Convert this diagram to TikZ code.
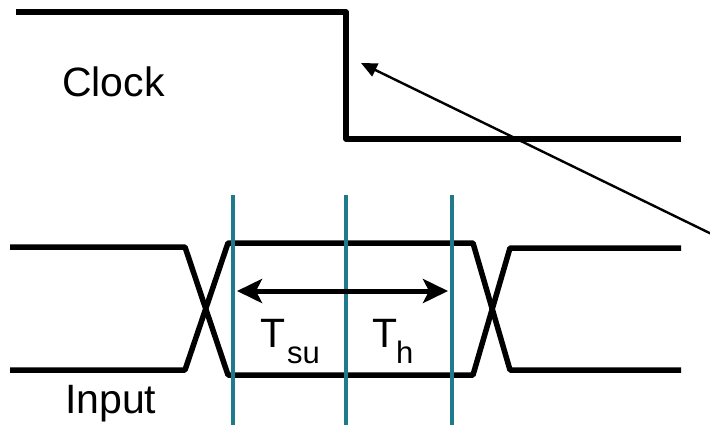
\documentclass[tikz,border=0pt]{standalone}
\usepackage{fontspec}
\setmainfont{Liberation Sans}
\usetikzlibrary{arrows.meta}
\definecolor{tealline}{RGB}{31,122,140}
\begin{document}
\begin{tikzpicture}[x=1pt,y=-1pt,
  sig/.style={line width=5.5pt, line join=round},
  guide/.style={tealline, line width=4.5pt},
  lbl/.style={font=\fontsize{41}{44}\selectfont, inner sep=0pt, anchor=base west},
  sublbl/.style={font=\fontsize{31}{34}\selectfont, inner sep=0pt, anchor=base west},
  dim/.style={line width=5pt, {Stealth[length=25pt,width=24pt,inset=6pt]}-{Stealth[length=25pt,width=24pt,inset=6pt]}},
  pointer/.style={line width=2.4pt, -{Triangle[length=16pt,width=14pt]}}]
\useasboundingbox (0,0) rectangle (710,424);
\clip (0,0) rectangle (710,424);
% Clock signal
\draw[sig] (16,12) -- (346,12) -- (346,139) -- (681,139);
% Input bus
\draw[sig] (10,247) -- (185,247) -- (228,375) -- (473,375) -- (510,248) -- (681,248);
\draw[sig] (10,370) -- (185,370) -- (228,243) -- (473,243) -- (510,370) -- (681,370);
% guide lines
\coordinate (g1t) at (233,195); \coordinate (g1b) at (233,430);
\coordinate (g2t) at (346,195); \coordinate (g2b) at (346,430);
\coordinate (g3t) at (452,195); \coordinate (g3b) at (452,430);
\draw[guide] (g1t) -- (g1b);
\draw[guide] (g2t) -- (g2b);
\draw[guide] (g3t) -- (g3b);
% dimension arrow
\coordinate (dl) at (237,291);
\coordinate (dr) at (448,291);
\draw[dim] (dl) -- (dr);
% labels
\node[lbl] (clk) at (62,96) {Clock};
\node[lbl] (inp) at (65,413) {Input};
\node[lbl] (tsu) at (260,347) {T};
\node[sublbl] (tsus) at (287,363) {su};
\node[lbl] (th) at (372,347) {T};
\node[sublbl] (ths) at (396,363) {h};
% pointer arrow
\coordinate (ps) at (730,243);
\coordinate (pe) at (361,63);
\draw[pointer] (ps) -- (pe);
\end{tikzpicture}
\end{document}
